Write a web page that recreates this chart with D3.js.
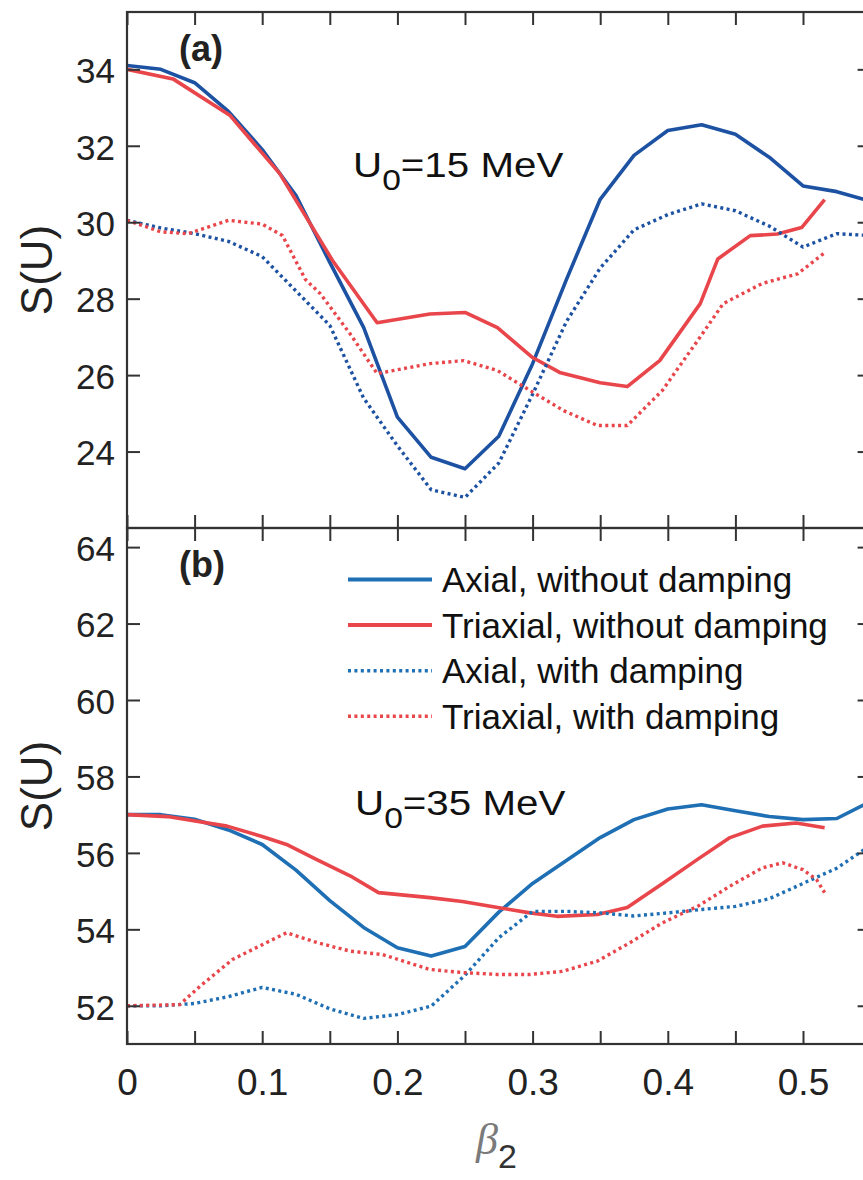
<!DOCTYPE html>
<html>
<head>
<meta charset="utf-8">
<script src="https://cdn.jsdelivr.net/npm/d3@7"></script>
<style>
  body { margin: 0; background: #fff; }
  svg { display: block; font-family: "Liberation Sans", Arial, Helvetica, sans-serif; }
</style>
</head>
<body>
<svg id="chart" width="863" height="1180"></svg>
<script>
// ---- data ----
// beta_2 grid for the axial curves
const betaAxial = [0, 0.025, 0.05, 0.075, 0.1, 0.125, 0.15, 0.175, 0.2, 0.225, 0.25, 0.275,
  0.3, 0.325, 0.35, 0.375, 0.4, 0.425, 0.45, 0.475, 0.5, 0.525, 0.55];

// (a) U0 = 15 MeV
const topAxialNoDamp = [34.1, 34.0, 33.65, 32.9, 31.9, 30.7, 28.95, 27.25, 24.9, 23.85, 23.55, 24.4,
  26.3, 28.5, 30.6, 31.75, 32.4, 32.55, 32.3, 31.7, 30.95, 30.8, 30.55];
const topAxialDamp = [30.05, 29.85, 29.7, 29.5, 29.1, 28.2, 27.3, 25.4, 24.15, 23.0, 22.8, 23.7,
  25.5, 27.4, 28.8, 29.8, 30.2, 30.48, 30.3, 29.9, 29.35, 29.7, 29.65];
const betaTriTop = [0, 0.034, 0.076, 0.113, 0.152, 0.185, 0.224, 0.25, 0.274, 0.3, 0.32, 0.35,
  0.37, 0.394, 0.424, 0.437, 0.461, 0.481, 0.499, 0.516];
const topTriNoDamp = [34.0, 33.75, 32.8, 31.27, 29.0, 27.37, 27.6, 27.64, 27.24, 26.46, 26.07, 25.8,
  25.7, 26.38, 27.87, 29.04, 29.65, 29.69, 29.86, 30.59];
const betaTriDampTop = [0, 0.025, 0.045, 0.075, 0.1, 0.115, 0.132, 0.143, 0.165, 0.185, 0.224, 0.249,
  0.274, 0.298, 0.323, 0.348, 0.37, 0.396, 0.422, 0.441, 0.47, 0.496, 0.516];
const topTriDamp = [30.05, 29.75, 29.7, 30.05, 29.95, 29.65, 28.5, 28.13, 27.08, 26.04, 26.3, 26.38,
  26.12, 25.6, 25.07, 24.68, 24.68, 25.6, 26.9, 27.87, 28.4, 28.65, 29.2];

// (b) U0 = 35 MeV
const botAxialNoDamp = [57.0, 57.0, 56.88, 56.6, 56.22, 55.55, 54.75, 54.05, 53.52, 53.3, 53.55, 54.45,
  55.2, 55.8, 56.4, 56.87, 57.15, 57.26, 57.1, 56.95, 56.87, 56.9, 57.35];
const botAxialDamp = [52.0, 52.0, 52.06, 52.24, 52.48, 52.3, 51.92, 51.67, 51.77, 51.99, 52.8, 53.78,
  54.47, 54.47, 54.43, 54.35, 54.43, 54.52, 54.6, 54.8, 55.2, 55.6, 56.2];
const betaTriBot = [0, 0.03, 0.074, 0.1, 0.118, 0.14, 0.165, 0.186, 0.224, 0.248, 0.283, 0.298,
  0.318, 0.348, 0.37, 0.397, 0.422, 0.446, 0.47, 0.495, 0.516];
const botTriNoDamp = [57.0, 56.95, 56.7, 56.43, 56.22, 55.83, 55.4, 54.96, 54.83, 54.73, 54.52, 54.43,
  54.34, 54.39, 54.57, 55.22, 55.83, 56.4, 56.7, 56.78, 56.66];
const betaTriDampBot = [0, 0.039, 0.054, 0.078, 0.103, 0.118, 0.141, 0.165, 0.189, 0.224, 0.248, 0.274,
  0.298, 0.322, 0.348, 0.372, 0.396, 0.422, 0.446, 0.47, 0.485, 0.5, 0.51, 0.516];
const botTriDamp = [52.0, 52.03, 52.51, 53.21, 53.65, 53.91, 53.65, 53.43, 53.34, 52.95, 52.87, 52.82,
  52.82, 52.9, 53.17, 53.65, 54.17, 54.6, 55.13, 55.61, 55.74, 55.56, 55.3, 54.96];

// ticks and labels
const xTicks = [0, 0.05, 0.1, 0.15, 0.2, 0.25, 0.3, 0.35, 0.4, 0.45, 0.5, 0.55];
const xTickLabels = { 0: "0", 0.1: "0.1", 0.2: "0.2", 0.3: "0.3", 0.4: "0.4", 0.5: "0.5" };
const topYTicks = [24, 26, 28, 30, 32, 34];
const botYTicks = [52, 54, 56, 58, 60, 62, 64];
const legendLabels = ["Axial, without damping", "Triaxial, without damping",
  "Axial, with damping", "Triaxial, with damping"];

// ---- layout ----
const svg = d3.select("#chart");
const left = 127, right = 870.6;
const frameColor = "#333";
const tickColor = "#222";
const fontTick = 35;

const x = d3.scaleLinear().domain([0, 0.55]).range([left, right]);

const panels = [
  {
    id: "a", top: 12, bottom: 528, domain: [22, 35.5], yTicks: topYTicks, blue: "#1d52a3", red: "#e9464b",
    series: [
      { b: betaAxial, v: topAxialNoDamp, c: "blue", dotted: false },
      { b: betaTriTop, v: topTriNoDamp, c: "red", dotted: false },
      { b: betaAxial, v: topAxialDamp, c: "blue", dotted: true },
      { b: betaTriDampTop, v: topTriDamp, c: "red", dotted: true }
    ]
  },
  {
    id: "b", top: 528, bottom: 1044, domain: [51, 64.5], yTicks: botYTicks, blue: "#1f6fb4", red: "#e9464b",
    series: [
      { b: betaAxial, v: botAxialNoDamp, c: "blue", dotted: false },
      { b: betaTriBot, v: botTriNoDamp, c: "red", dotted: false },
      { b: betaAxial, v: botAxialDamp, c: "blue", dotted: true },
      { b: betaTriDampBot, v: botTriDamp, c: "red", dotted: true }
    ]
  }
];

function styleAxis(g) {
  g.select(".domain").remove();
  g.selectAll(".tick line").attr("stroke", frameColor).attr("stroke-width", 2);
  g.selectAll(".tick text").attr("fill", tickColor);
  g.attr("font-size", fontTick).attr("font-family", null);
}

panels.forEach((p, pi) => {
  const y = d3.scaleLinear().domain(p.domain).range([p.bottom, p.top]);
  const clipId = "clip-" + p.id;

  svg.append("clipPath").attr("id", clipId)
    .append("rect")
    .attr("x", left).attr("y", p.top)
    .attr("width", right - left).attr("height", p.bottom - p.top);

  // curves
  const lineGen = d3.line()
    .x(d => x(d[0]))
    .y(d => y(d[1]));

  const curves = svg.append("g").attr("clip-path", `url(#${clipId})`);
  p.series.forEach(s => {
    const pts = s.b.map((b, i) => [b, s.v[i]]);
    curves.append("path")
      .datum(pts)
      .attr("d", lineGen)
      .attr("fill", "none")
      .attr("stroke", p[s.c])
      .attr("stroke-width", s.dotted ? 3.4 : 3.6)
      .attr("stroke-dasharray", s.dotted ? "3,3.4" : null)
      .attr("stroke-linejoin", "round");
  });

  // axes with inward ticks
  const isBottom = pi === panels.length - 1;
  const xBottom = svg.append("g")
    .attr("transform", `translate(0,${p.bottom})`)
    .call(d3.axisBottom(x).tickValues(xTicks).tickSizeInner(-13).tickSizeOuter(0).tickPadding(25)
      .tickFormat(d => isBottom ? (xTickLabels[d] || "") : ""))
    .call(styleAxis);
  xBottom.attr("font-size", 37);

  svg.append("g")
    .attr("transform", `translate(0,${p.top})`)
    .call(d3.axisTop(x).tickValues(xTicks).tickSizeInner(-13).tickSizeOuter(0).tickFormat(""))
    .call(styleAxis);

  svg.append("g")
    .attr("transform", `translate(${left},0)`)
    .call(d3.axisLeft(y).tickValues(p.yTicks).tickSizeInner(-13).tickSizeOuter(0).tickPadding(12))
    .call(styleAxis)
    .selectAll(".tick text").attr("dy", "0.38em");

  svg.append("g")
    .attr("transform", `translate(${right},0)`)
    .call(d3.axisRight(y).tickValues(p.yTicks).tickSizeInner(-13).tickSizeOuter(0).tickFormat(""))
    .call(styleAxis);

  // frame
  svg.append("rect")
    .attr("x", left).attr("y", p.top)
    .attr("width", right - left).attr("height", p.bottom - p.top)
    .attr("fill", "none").attr("stroke", frameColor).attr("stroke-width", 2.2);

  // y label
  svg.append("text")
    .attr("transform", `translate(52,${(p.top + p.bottom) / 2}) rotate(-90)`)
    .attr("text-anchor", "middle")
    .attr("font-size", 44)
    .attr("fill", tickColor)
    .text("S(U)");

  // panel letter
  svg.append("text")
    .attr("x", 179).attr("y", p.top + 49)
    .attr("font-size", 36).attr("font-weight", "bold")
    .attr("fill", tickColor)
    .text(`(${p.id})`);
});

// U0 annotations
function energyLabel(xp, yp, energy) {
  const t = svg.append("text")
    .attr("transform", `translate(${xp},${yp}) scale(1.12,1)`)
    .attr("font-size", 36)
    .attr("fill", "#111");
  t.append("tspan").text("U");
  t.append("tspan").attr("font-size", 30).attr("dy", 13).text("0");
  t.append("tspan").attr("dy", -13).text(`=${energy} MeV`);
}
energyLabel(353, 177, 15);
energyLabel(355, 815, 35);

// legend
const legendColors = [panels[1].blue, panels[1].red, panels[1].blue, panels[1].red];
const legendDotted = [false, false, true, true];
const legend = svg.append("g");
legendLabels.forEach((lab, i) => {
  const ly = 579.5 + i * 45.6;
  legend.append("line")
    .attr("x1", 348).attr("x2", 432)
    .attr("y1", ly).attr("y2", ly)
    .attr("stroke", legendColors[i])
    .attr("stroke-width", legendDotted[i] ? 3.4 : 4)
    .attr("stroke-dasharray", legendDotted[i] ? "3,3.4" : null);
  legend.append("text")
    .attr("x", 442).attr("y", ly + 12.5)
    .attr("font-size", 35)
    .attr("fill", "#111")
    .text(lab);
});

// x axis title
const xt = svg.append("text")
  .attr("x", 476).attr("y", 1154);
xt.append("tspan")
  .attr("font-family", "'Liberation Serif', 'DejaVu Serif', serif")
  .attr("font-style", "italic")
  .attr("font-size", 44)
  .attr("fill", "#7a7a7a")
  .text("β");
xt.append("tspan")
  .attr("font-size", 34)
  .attr("dy", 14)
  .attr("fill", "#333")
  .text("2");
</script>
</body>
</html>
